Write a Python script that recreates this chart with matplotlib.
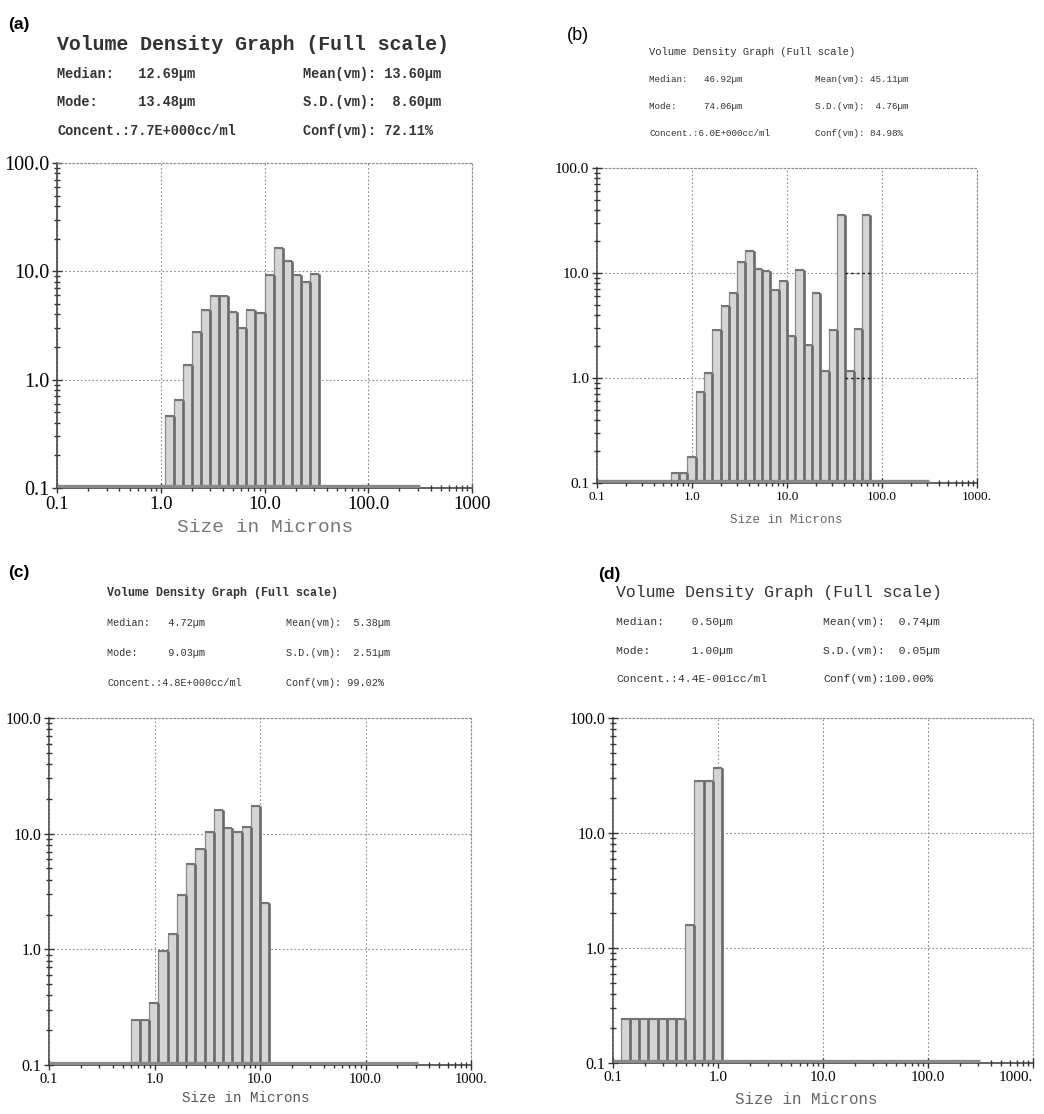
import numpy as np
import matplotlib
matplotlib.use('Agg')
import matplotlib.pyplot as plt
from matplotlib.ticker import FixedLocator, LogLocator, NullFormatter

W, H = 1044, 1114

# shared log-spaced size bins of the analyser
BIN_LOG0 = -0.925
BIN_LOG_STEP = 0.0875
SIZE_RANGE = (0.1, 316.0)

x_ticks = [0.1, 1, 10, 100, 1000]
y_ticks = [0.1, 1, 10, 100]
y_ticklabels = ['0.1', '1.0', '10.0', '100.0']

a_first_bin = 11
a_values = [0.46, 0.65, 1.37, 2.77, 4.4, 5.9, 5.9, 4.25, 3.0, 4.4, 4.1,
            9.2, 16.5, 12.4, 9.2, 7.9, 9.5]
b_first_bin = 8
b_values = [0.124, 0.124, 0.177, 0.73, 1.12, 2.84, 4.9, 6.5, 12.6, 16.1,
            10.9, 10.4, 6.9, 8.4, 2.49, 10.6, 2.07, 6.5, 1.16, 2.84,
            35.4, 1.16, 2.93, 35.4]
c_first_bin = 8
c_values = [0.247, 0.247, 0.346, 0.96, 1.37, 2.95, 5.5, 7.4, 10.3, 15.9,
            11.1, 10.3, 11.4, 17.4, 2.54]
d_first_bin = 0
d_values = [0.24, 0.24, 0.24, 0.24, 0.24, 0.24, 0.24, 1.6, 28.1, 28.1, 36.6]

title = 'Volume Density Graph (Full scale)'
a_left = ['Median:   12.69µm', 'Mode:     13.48µm', 'Concent.:7.7E+000cc/ml']
a_right = ['Mean(vm): 13.60µm', 'S.D.(vm):  8.60µm', 'Conf(vm): 72.11%']
b_left = ['Median:   46.92µm', 'Mode:     74.06µm', 'Concent.:6.0E+000cc/ml']
b_right = ['Mean(vm): 45.11µm', 'S.D.(vm):  4.76µm', 'Conf(vm): 84.98%']
c_left = ['Median:   4.72µm', 'Mode:     9.03µm', 'Concent.:4.8E+000cc/ml']
c_right = ['Mean(vm):  5.38µm', 'S.D.(vm):  2.51µm', 'Conf(vm): 99.02%']
d_left = ['Median:    0.50µm', 'Mode:      1.00µm', 'Concent.:4.4E-001cc/ml']
d_right = ['Mean(vm):  0.74µm', 'S.D.(vm):  0.05µm', 'Conf(vm):100.00%']

MONO = 'Liberation Mono'
SERIF = 'Liberation Serif'

fig = plt.figure(figsize=(W / 100, H / 100), dpi=100)


def px_axes(x0, x1, y0, y1):
    return fig.add_axes([x0 / W, 1 - y1 / H, (x1 - x0) / W, (y1 - y0) / H])


def ftext(x, y, s, **kw):
    fig.text(x / W, 1 - y / H, s, va='center', **kw)


def draw_panel(ax, first_bin, values, xlabels, xsize, ysize, grid_top):
    idx = first_bin + np.arange(len(values) + 1)
    edges = 10 ** (BIN_LOG0 + BIN_LOG_STEP * idx)
    vals = np.array(values)
    lefts, widths = edges[:-1], np.diff(edges)
    ax.bar(lefts, vals - 0.1, width=widths, bottom=0.1, align='edge',
           color='#d5d5d5', edgecolor='#8a8a8a', linewidth=0.9, zorder=3)
    # darker top and right edges give the bars their raised look
    ax.vlines(edges[1:], 0.1, vals, color='#6a6a6a', lw=1.9, zorder=3.5)
    ax.hlines(vals, lefts, edges[1:], color='#757575', lw=1.5, zorder=3.5)
    ax.hlines(0.1035, SIZE_RANGE[0], SIZE_RANGE[1], color='#8a8a8a', lw=2.4, zorder=4)

    ax.set_xscale('log')
    ax.set_yscale('log')
    ax.set_xlim(0.1, 1000)
    ax.set_ylim(0.1, 100)
    ax.xaxis.set_major_locator(FixedLocator(x_ticks))
    ax.xaxis.set_minor_locator(LogLocator(base=10, subs=np.arange(2, 10)))
    ax.xaxis.set_minor_formatter(NullFormatter())
    ax.set_xticklabels(xlabels, fontfamily=SERIF, fontsize=xsize)
    ax.yaxis.set_major_locator(FixedLocator(y_ticks))
    ax.yaxis.set_minor_locator(LogLocator(base=10, subs=np.arange(2, 10)))
    ax.yaxis.set_minor_formatter(NullFormatter())
    ax.set_yticklabels(y_ticklabels, fontfamily=SERIF, fontsize=ysize)
    ax.tick_params(which='both', direction='inout', color='#333333', width=1)
    ax.tick_params(which='major', length=7, pad=2)
    ax.tick_params(which='minor', length=4)

    ax.grid(True, which='major', linestyle=(0, (1.5, 2)), color='#8c8c8c', lw=0.8,
            zorder=5 if grid_top else 1)
    ax.set_axisbelow(not grid_top)
    for side in ('left', 'bottom'):
        ax.spines[side].set_color('#444444')
        ax.spines[side].set_linewidth(1.2)
    for side in ('top', 'right'):
        ax.spines[side].set_color('#8c8c8c')
        ax.spines[side].set_linestyle((0, (1.5, 2)))
        ax.spines[side].set_linewidth(0.8)
    return edges


def header(x, xr, ys, tsize, rsize, tweight, rweight, left, right):
    ftext(x, ys[0], title, fontfamily=MONO, fontsize=tsize, fontweight=tweight, color='#333333')
    for y, l, r in zip(ys[1:], left, right):
        ftext(x, y, l, fontfamily=MONO, fontsize=rsize, fontweight=rweight, color='#333333')
        ftext(xr, y, r, fontfamily=MONO, fontsize=rsize, fontweight=rweight, color='#333333')


# (a)
ax_a = px_axes(57, 472, 163, 488)
draw_panel(ax_a, a_first_bin, a_values, ['0.1', '1.0', '10.0', '100.0', '1000'], 13.5, 14.5, False)
header(57, 303, [44, 74, 102, 131], 14.3, 9.8, 'bold', 'bold', a_left, a_right)
ftext(265, 528, 'Size in Microns', fontfamily=MONO, fontsize=14, color='#777777', ha='center')
ftext(8, 25, '(a)', fontfamily='Liberation Sans', fontsize=12.5, fontweight='bold')

# (b)
ax_b = px_axes(597, 977, 168, 483)
edges_b = draw_panel(ax_b, b_first_bin, b_values, ['0.1', '1.0', '10.0', '100.0', '1000.'], 9.5, 11, True)
ax_b.hlines([1, 10], edges_b[21], edges_b[24], colors='#222222', linestyles=(0, (2, 2)), lw=1, zorder=6)
header(649, 815, [52, 79, 107, 134], 7.6, 6.7, 'normal', 'normal', b_left, b_right)
ftext(786, 520, 'Size in Microns', fontfamily=MONO, fontsize=9, color='#666666', ha='center')
ftext(567, 36, '(b)', fontfamily='Liberation Sans', fontsize=13)

# (c)
ax_c = px_axes(49, 471, 718, 1065)
draw_panel(ax_c, c_first_bin, c_values, ['0.1', '1.0', '10.0', '100.0', '1000.'], 10.5, 11.5, True)
header(107, 286, [593, 623, 653, 683], 8.4, 7.3, 'bold', 'normal', c_left, c_right)
ftext(246, 1098, 'Size in Microns', fontfamily=MONO, fontsize=10.2, color='#555555', ha='center')
ftext(8, 573, '(c)', fontfamily='Liberation Sans', fontsize=12.5, fontweight='bold')

# (d)
ax_d = px_axes(613, 1033, 718, 1063)
draw_panel(ax_d, d_first_bin, d_values, ['0.1', '1.0', '10.0', '100.0', '1000.'], 11, 11.5, True)
ax_d.get_xticklabels()[-1].set_horizontalalignment('right')
header(616, 823, [592, 622, 651, 679], 11.9, 8.2, 'normal', 'normal', d_left, d_right)
ftext(806, 1100, 'Size in Microns', fontfamily=MONO, fontsize=11.4, color='#666666', ha='center')
ftext(598, 575, '(d)', fontfamily='Liberation Sans', fontsize=12.5, fontweight='bold')

fig.savefig('out.png', dpi=100)
